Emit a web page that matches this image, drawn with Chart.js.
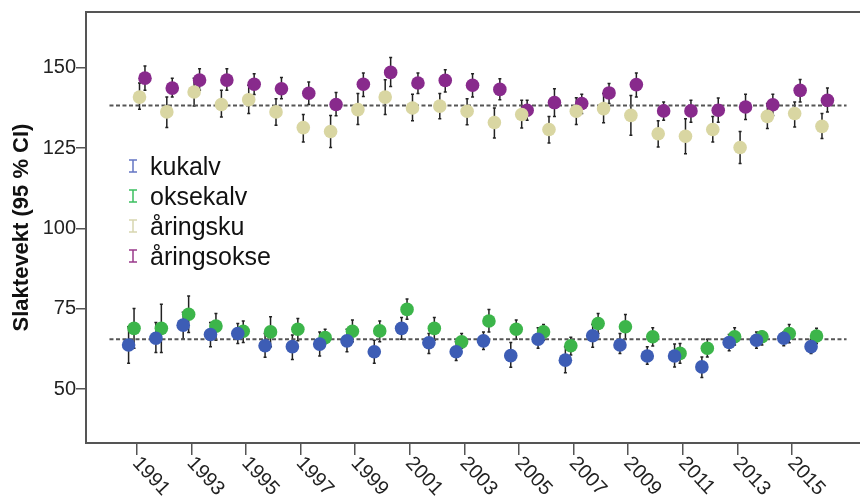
<!DOCTYPE html>
<html>
<head>
<meta charset="utf-8">
<script src="https://cdn.jsdelivr.net/npm/chart.js@4.4.1/dist/chart.umd.min.js"></script>
<style>
  html, body { margin: 0; background: #fff; overflow: hidden; }
  #wrap { width: 867px; height: 497px; position: relative; }
</style>
</head>
<body>
<div id="wrap"><canvas id="slakt"></canvas></div>
<script>
  const years = [1991, 1992, 1993, 1994, 1995, 1996, 1997, 1998, 1999, 2000, 2001, 2002, 2003,
                 2004, 2005, 2006, 2007, 2008, 2009, 2010, 2011, 2012, 2013, 2014, 2015, 2016];
  const tickYears = [1991, 1993, 1995, 1997, 1999, 2001, 2003, 2005, 2007, 2009, 2011, 2013, 2015];
  const yTicks = [50, 75, 100, 125, 150];

  const kukalv     = [63.7, 65.8, 69.9, 67.0, 67.3, 63.5, 63.2, 64.0, 65.0, 61.6, 68.9, 64.4, 61.6, 65.0, 60.4, 65.5, 59.0, 66.6, 63.7, 60.3, 60.3, 56.9, 64.5, 65.2, 65.8, 63.2];
  const kukalvLow  = [58.0, 61.4, 65.6, 63.2, 64.2, 59.9, 59.2, 60.3, 61.6, 58.0, 65.5, 61.1, 58.9, 62.3, 56.8, 62.7, 55.1, 63.0, 61.1, 57.7, 56.9, 53.6, 61.9, 62.7, 63.5, 61.1];
  const kukalvHigh = [69.4, 70.7, 73.9, 70.7, 70.4, 67.3, 66.8, 67.8, 68.6, 65.2, 72.3, 67.3, 64.7, 67.8, 64.5, 69.1, 63.2, 70.1, 67.3, 63.2, 64.0, 60.0, 67.0, 67.8, 67.8, 65.5];

  const oksekalv     = [68.9, 68.9, 73.3, 69.6, 68.0, 67.8, 68.6, 66.0, 68.0, 68.1, 74.8, 68.9, 64.7, 71.2, 68.6, 67.8, 63.5, 70.4, 69.4, 66.3, 61.1, 62.7, 66.3, 66.3, 67.3, 66.5];
  const oksekalvLow  = [62.7, 61.4, 67.6, 65.2, 64.5, 63.2, 65.0, 64.2, 64.7, 64.7, 71.7, 65.2, 62.7, 67.8, 65.5, 65.2, 60.6, 67.3, 65.5, 63.4, 58.0, 60.0, 63.7, 63.7, 64.4, 64.2];
  const oksekalvHigh = [75.1, 76.4, 79.0, 73.5, 71.2, 72.5, 72.0, 68.6, 71.5, 71.2, 78.0, 72.3, 67.3, 74.8, 71.5, 70.1, 66.1, 73.5, 73.2, 69.1, 64.2, 65.5, 69.1, 68.0, 70.1, 68.9];

  const aringsku     = [140.9, 136.3, 142.5, 138.6, 140.1, 136.3, 131.4, 130.2, 137.0, 140.9, 137.5, 138.1, 136.5, 133.0, 135.5, 130.8, 136.5, 137.3, 135.2, 129.5, 128.7, 130.8, 125.2, 134.9, 135.8, 131.8];
  const aringskuLow  = [137.1, 131.4, 138.1, 134.7, 135.8, 132.1, 126.9, 125.2, 132.4, 135.5, 133.5, 134.2, 132.3, 128.2, 131.3, 126.6, 132.4, 132.9, 129.0, 125.4, 123.3, 126.9, 120.2, 131.1, 131.6, 128.0];
  const aringskuHigh = [145.3, 140.9, 146.8, 143.0, 144.6, 140.4, 135.5, 135.2, 142.0, 146.3, 141.8, 142.0, 140.4, 137.5, 139.9, 134.9, 140.7, 142.0, 141.4, 133.5, 134.2, 134.9, 130.2, 138.9, 139.4, 135.8];

  const aringsokse     = [146.8, 143.7, 146.2, 146.2, 144.9, 143.5, 142.1, 138.6, 144.9, 148.6, 145.3, 146.1, 144.6, 143.3, 136.8, 139.2, 138.9, 142.2, 144.8, 136.6, 136.6, 136.8, 137.8, 138.5, 143.0, 139.9];
  const aringsokseLow  = [143.0, 140.9, 143.0, 143.0, 141.7, 140.4, 138.6, 135.1, 141.1, 144.2, 142.0, 142.5, 140.9, 140.1, 133.7, 134.9, 135.8, 138.9, 140.9, 133.7, 133.1, 133.1, 133.9, 135.2, 139.4, 136.3];
  const aringsokseHigh = [150.6, 146.8, 149.7, 149.7, 148.2, 147.0, 145.6, 142.3, 148.4, 153.2, 148.4, 149.4, 148.2, 146.6, 139.9, 143.5, 141.8, 145.1, 148.4, 139.4, 139.9, 140.6, 141.8, 141.8, 146.4, 143.7];

  // reference lines (group means)
  const refCalf = 65.5;
  const refYearling = 138.3;
  const refSpan = [1990, 2017];

  const FONT = "'Liberation Sans', Arial, sans-serif";

  const series = [
    { label: 'kukalv',     mean: kukalv,     low: kukalvLow,     high: kukalvHigh,     color: '#3d5db5', legendColor: '#6476c4', shift: -0.3 },
    { label: 'oksekalv',   mean: oksekalv,   low: oksekalvLow,   high: oksekalvHigh,   color: '#3cb54a', legendColor: '#3cc060', shift: -0.1 },
    { label: 'åringsku',   mean: aringsku,   low: aringskuLow,   high: aringskuHigh,   color: '#d9d6a2', legendColor: '#d8d6b0', shift: 0.1 },
    { label: 'åringsokse', mean: aringsokse, low: aringsokseLow, high: aringsokseHigh, color: '#882a8c', legendColor: '#9a3a8c', shift: 0.3 }
  ];

  const datasets = series.map(s => ({
    label: s.label,
    data: years.map((yr, i) => ({ x: yr + s.shift, y: s.mean[i], lo: s.low[i], hi: s.high[i] })),
    backgroundColor: s.color,
    borderWidth: 0,
    pointRadius: 6.8,
    showLine: false,
    order: 1
  }));

  [refCalf, refYearling].forEach(v => {
    datasets.push({
      label: 'ref',
      data: refSpan.map(x => ({ x: x, y: v })),
      showLine: true,
      borderColor: '#555',
      borderWidth: 2,
      borderDash: [4, 2.5],
      pointRadius: 0,
      order: 10
    });
  });

  const errorBars = {
    id: 'errorBars',
    beforeDatasetsDraw(chart) {
      const ctx = chart.ctx;
      const xs = chart.scales.x, ys = chart.scales.y;
      ctx.save();
      ctx.strokeStyle = '#222';
      ctx.lineWidth = 1.5;
      chart.data.datasets.forEach(ds => {
        if (ds.label === 'ref') return;
        ds.data.forEach(p => {
          const x = xs.getPixelForValue(p.x);
          const top = ys.getPixelForValue(p.hi);
          const bot = ys.getPixelForValue(p.lo);
          ctx.beginPath();
          ctx.moveTo(x, top); ctx.lineTo(x, bot);
          ctx.moveTo(x - 1.5, top); ctx.lineTo(x + 1.5, top);
          ctx.moveTo(x - 1.5, bot); ctx.lineTo(x + 1.5, bot);
          ctx.stroke();
        });
      });
      ctx.restore();
    }
  };

  const frameAndLabels = {
    id: 'frameAndLabels',
    afterDraw(chart) {
      const ctx = chart.ctx;
      const area = chart.chartArea;
      const xs = chart.scales.x;
      ctx.save();
      // top frame line
      ctx.strokeStyle = '#555';
      ctx.lineWidth = 2;
      ctx.beginPath();
      ctx.moveTo(area.left, area.top);
      ctx.lineTo(area.right + 10, area.top);
      ctx.stroke();

      // rotated year labels
      ctx.fillStyle = '#222';
      ctx.font = '20px ' + FONT;
      ctx.textAlign = 'left';
      ctx.textBaseline = 'middle';
      tickYears.forEach(yr => {
        const x = xs.getPixelForValue(yr);
        ctx.save();
        ctx.translate(x - 1, area.bottom + 17);
        ctx.rotate(47 * Math.PI / 180);
        ctx.fillText(String(yr), 0, 0);
        ctx.restore();
      });

      // legend inside plot
      ctx.font = '25px ' + FONT;
      ctx.textBaseline = 'alphabetic';
      series.forEach((s, i) => {
        const base = 175 + i * 30;
        ctx.strokeStyle = s.legendColor;
        ctx.lineWidth = 1.5;
        ctx.beginPath();
        ctx.moveTo(133, base - 15); ctx.lineTo(133, base - 3);
        ctx.moveTo(129, base - 15); ctx.lineTo(137, base - 15);
        ctx.moveTo(129, base - 3); ctx.lineTo(137, base - 3);
        ctx.stroke();
        ctx.fillStyle = '#111';
        ctx.fillText(s.label, 150, base);
      });
      ctx.restore();
    }
  };

  new Chart(document.getElementById('slakt'), {
    type: 'scatter',
    data: { datasets: datasets },
    options: {
      responsive: true,
      maintainAspectRatio: false,
      animation: false,
      layout: { padding: { top: 12, right: 0, left: 0, bottom: 0 } },
      plugins: {
        legend: { display: false },
        tooltip: { enabled: false }
      },
      scales: {
        x: {
          type: 'linear',
          min: 1989.14,
          max: 2017.5,
          afterBuildTicks: scale => { scale.ticks = tickYears.map(v => ({ value: v })); },
          afterFit: scale => { scale.height = 54; },
          ticks: { display: false },
          grid: { drawOnChartArea: false, drawTicks: true, tickLength: 12, color: '#555', lineWidth: 1.5 },
          border: { color: '#555', width: 2 }
        },
        y: {
          min: 33.2,
          max: 167.4,
          afterBuildTicks: scale => { scale.ticks = yTicks.map(v => ({ value: v })); },
          afterFit: scale => { scale.width = 86; },
          ticks: { color: '#222', padding: 0, font: { family: FONT, size: 20 } },
          grid: { drawOnChartArea: false, drawTicks: true, tickLength: 10, color: '#555', lineWidth: 1.5 },
          border: { color: '#555', width: 2 },
          title: {
            display: true,
            text: 'Slaktevekt (95 % CI)',
            color: '#111',
            font: { family: FONT, size: 22, weight: 'bold' },
            padding: { top: 9, bottom: 0 }
          }
        }
      }
    },
    plugins: [errorBars, frameAndLabels]
  });
</script>
</body>
</html>
